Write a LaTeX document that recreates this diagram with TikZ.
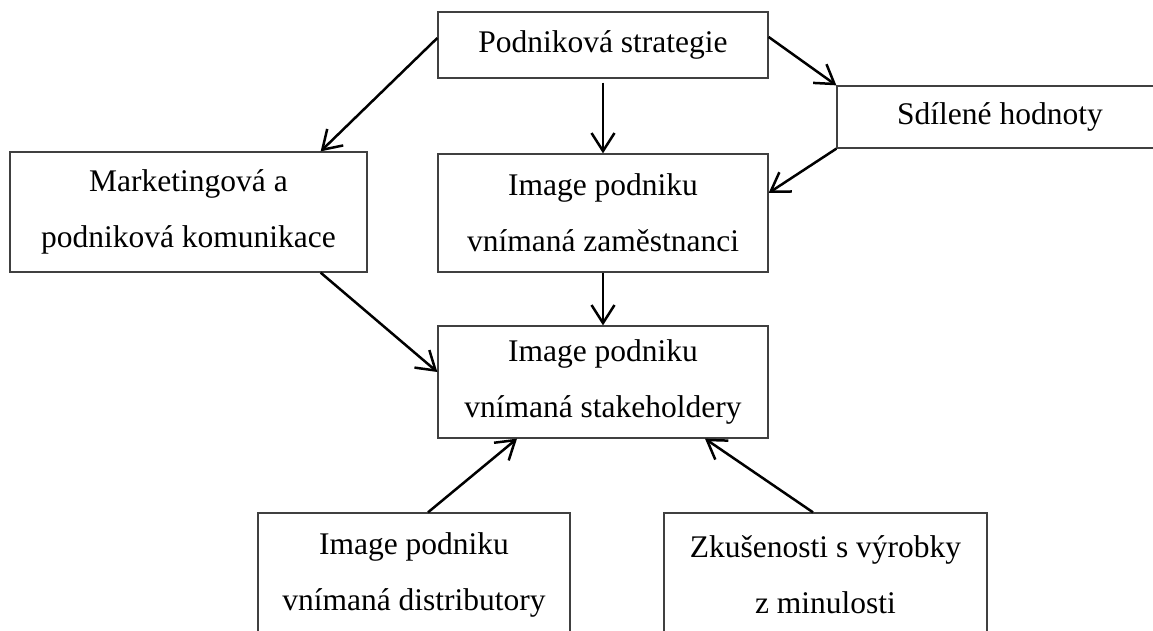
\documentclass[tikz,border=0pt]{standalone}
\usepackage{fontspec}
\setmainfont{Liberation Serif}
\usetikzlibrary{arrows.meta}
\tikzset{
  box/.style={draw=black!75, line width=1.3pt, inner sep=0pt, align=center,
    font=\fontsize{31.5}{56}\selectfont},
  arr/.style={line width=2.5pt, -{Straight Barb[length=18pt,width=23pt,line width=2.5pt]}}
}
\begin{document}
\begin{tikzpicture}[x=1pt,y=-1pt]
\useasboundingbox (0,0) rectangle (1153,631);
\node[box, minimum width=330pt, minimum height=66pt] (ps) at (603,45) {Podniková strategie};
\node[box, minimum width=326pt, minimum height=62pt] (sh) at (1000,117) {Sdílené hodnoty};
\node[box, minimum width=357pt, minimum height=120pt] (mk) at (188.5,212) {Marketingová a\\podniková komunikace};
\node[box, minimum width=330pt, minimum height=118pt] (zm) at (603,213) {Image podniku\\vnímaná zaměstnanci};
\node[box, minimum width=330pt, minimum height=112pt] (st) at (603,382) {Image podniku\\vnímaná stakeholdery};
\node[box, minimum width=312pt, minimum height=124pt] (di) at (414,575) {Image podniku\\vnímaná distributory};
\node[box, minimum width=323pt, minimum height=124pt] (zk) at (825.5,575) {Zkušenosti s výrobky\\z minulosti};

\draw[arr] ([yshift=7pt]ps.west) -- ([xshift=-47pt]mk.north east);
\draw[arr, shorten <=4pt] (ps.south) -- (zm.north);
\draw[arr] ([yshift=8pt]ps.east) -- (sh.north west);
\draw[arr] (sh.south west) -- ([yshift=20pt]zm.east);
\draw[arr] ([xshift=-47pt]mk.south east) -- ([yshift=10pt]st.west);
\draw[arr] (zm.south) -- (st.north);
\draw[arr] ([xshift=14pt]di.north) -- ([xshift=-86pt]st.south);
\draw[arr] ([xshift=-12.5pt]zk.north) -- ([xshift=102pt]st.south);
\end{tikzpicture}
\end{document}
